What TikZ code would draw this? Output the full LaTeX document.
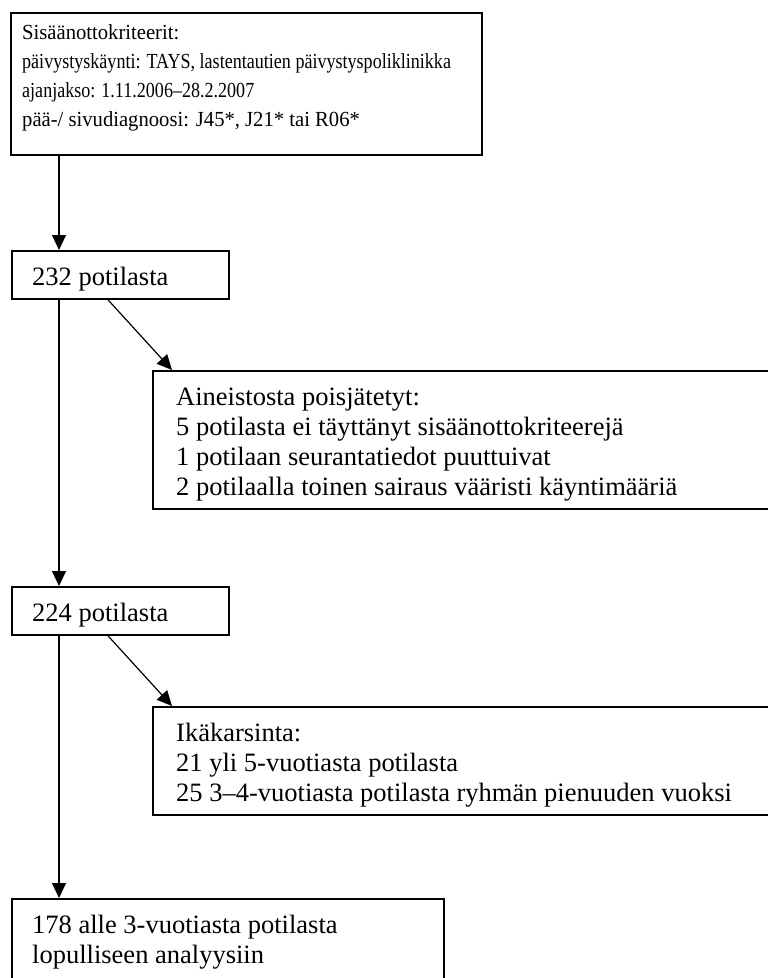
\documentclass[tikz,border=0pt]{standalone}
\usepackage{fontspec}
\setmainfont{Liberation Serif}
\newfontfamily\narrowserif{Liberation Serif}[FakeStretch=0.84]
\newfontfamily\midserif{Liberation Serif}[FakeStretch=0.96]
\usetikzlibrary{arrows.meta}
\newcommand\linestack[1]{\begin{tabular}[t]{@{}l@{}}#1\end{tabular}}
\begin{document}
\begin{tikzpicture}[x=1pt,y=-1pt,
  box/.style={draw, line width=1.8pt, inner sep=0pt, anchor=north west},
  txt/.style={inner sep=0pt, anchor=base west, font=\fontsize{26.5}{30}\selectfont},
  arr/.style={line width=1.2pt, -{Triangle[length=15pt,width=14pt]}}]
\useasboundingbox (0,0) rectangle (768,978);
\clip (0,0) rectangle (768,978);
\node[box, minimum width=471pt, minimum height=142pt] (b1) at (10,12) {};
\node[box, minimum width=217pt, minimum height=48pt] (b2) at (11,250) {};
\node[box, minimum width=660pt, minimum height=138pt] (b3) at (152,370) {};
\node[box, minimum width=217pt, minimum height=48pt] (b4) at (11,586) {};
\node[box, minimum width=660pt, minimum height=108pt] (b5) at (152,706) {};
\node[box, minimum width=432pt, minimum height=120pt] (b6) at (11,898) {};
\node[txt, font=\narrowserif\fontsize{21.5}{29.2}\selectfont] (t1) at (22,39.3)
  {\linestack{{\midserif Sisäänottokriteerit:}\\päivystyskäynti: TAYS, lastentautien päivystyspoliklinikka\\ajanjakso: 1.11.2006–28.2.2007\\{\midserif pää-/ sivudiagnoosi: J45*, J21* tai R06*}}};
\node[txt] (t2) at (32,285) {232 potilasta};
\node[txt] (t3) at (176,405) {\linestack{Aineistosta poisjätetyt:\\5 potilasta ei täyttänyt sisäänottokriteerejä\\1 potilaan seurantatiedot puuttuivat\\2 potilaalla toinen sairaus vääristi käyntimääriä}};
\node[txt] (t4) at (32,621) {224 potilasta};
\node[txt] (t5) at (176,741) {\linestack{Ikäkarsinta:\\21 yli 5-vuotiasta potilasta\\25 3–4-vuotiasta potilasta ryhmän pienuuden vuoksi}};
\node[txt] (t6) at (32,933) {\linestack{178 alle 3-vuotiasta potilasta\\lopulliseen analyysiin}};
\coordinate (ax) at (59,0);
\coordinate (dxa) at (108,0);
\coordinate (dxb) at (172,0);
\draw[arr] (b1.south -| ax) -- (b2.north -| ax);
\draw[arr] (b2.south -| ax) -- (b4.north -| ax);
\draw[arr] (b4.south -| ax) -- (b6.north -| ax);
\draw[arr] (b2.south -| dxa) -- (b3.north -| dxb);
\draw[arr] (b4.south -| dxa) -- (b5.north -| dxb);
\end{tikzpicture}
\end{document}
